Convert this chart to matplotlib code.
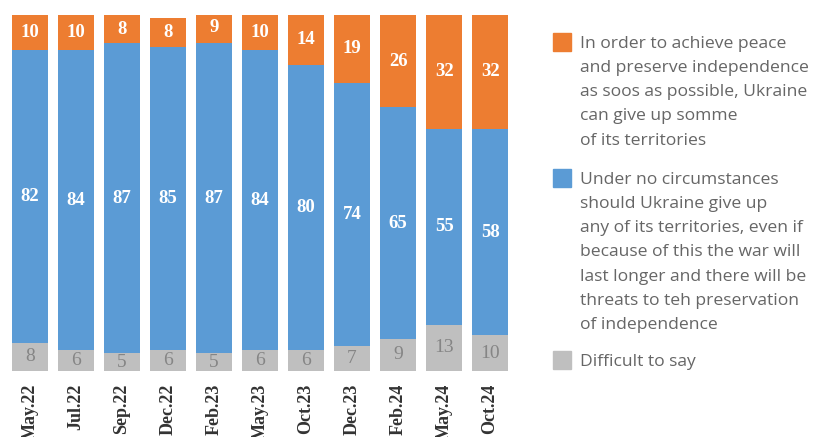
import matplotlib.pyplot as plt
from matplotlib.patches import Rectangle

periods = ['May.22', 'Jul.22', 'Sep.22', 'Dec.22', 'Feb.23', 'May.23',
           'Oct.23', 'Dec.23', 'Feb.24', 'May.24', 'Oct.24']
difficult = [8, 6, 5, 6, 5, 6, 6, 7, 9, 13, 10]
never_give_up = [82, 84, 87, 85, 87, 84, 80, 74, 65, 55, 58]
give_up_some = [10, 10, 8, 8, 9, 10, 14, 19, 26, 32, 32]

legend_labels = [
    'In order to achieve peace\nand preserve independence\nas soos as possible, Ukraine\ncan give up somme\nof its territories',
    'Under no circumstances\nshould Ukraine give up\nany of its territories, even if\nbecause of this the war will\nlast longer and there will be\nthreats to teh preservation\nof independence',
    'Difficult to say',
]

orange = '#ED7D31'
blue = '#5B9BD5'
gray = '#BFBFBF'

fig = plt.figure(figsize=(8.13, 4.37), dpi=100)
ax = fig.add_axes([0.0086, 0.151, 0.6225, 0.815])

x = list(range(len(periods)))
serif = 'Liberation Serif'

ax.bar(x, difficult, width=0.8, color=gray)
ax.bar(x, never_give_up, width=0.8, bottom=difficult, color=blue)
bottoms = [d + n for d, n in zip(difficult, never_give_up)]
ax.bar(x, give_up_some, width=0.8, bottom=bottoms, color=orange)

# value labels
for i in x:
    ax.text(i, difficult[i] / 2, str(difficult[i]), ha='center', va='center',
            color='#858585', fontsize=14, family=serif)
    ax.text(i, difficult[i] + never_give_up[i] / 2, str(never_give_up[i]),
            ha='center', va='center', color='white', fontsize=13.5,
            fontweight='bold', family=serif)
    ax.text(i, bottoms[i] + give_up_some[i] / 2, str(give_up_some[i]),
            ha='center', va='center', color='white', fontsize=13.5,
            fontweight='bold', family=serif)

ax.set_xlim(-0.5, len(periods) - 0.5)
ax.set_ylim(0, 100)
ax.set_xticks(x)
ax.set_xticklabels(periods, rotation=90, fontsize=13, fontweight='bold',
                   family=serif, color='#333333')
ax.tick_params(length=0, pad=9)
ax.set_yticks([])
for s in ax.spines.values():
    s.set_visible(False)

# legend drawn by hand
W, H = 813, 437
legend_colors = [orange, blue, gray]
square_tops = [33, 169, 351]
for label, col, top in zip(legend_labels, legend_colors, square_tops):
    fig.patches.append(Rectangle((553 / W, 1 - (top + 18) / H), 18 / W, 18 / H,
                                 transform=fig.transFigure, color=col))
    fig.text(580 / W, 1 - (top + 3) / H, label, ha='left', va='top',
             fontsize=12.6, color='#666666', family='Open Sans',
             linespacing=1.68)

fig.savefig('out.png', dpi=100)
